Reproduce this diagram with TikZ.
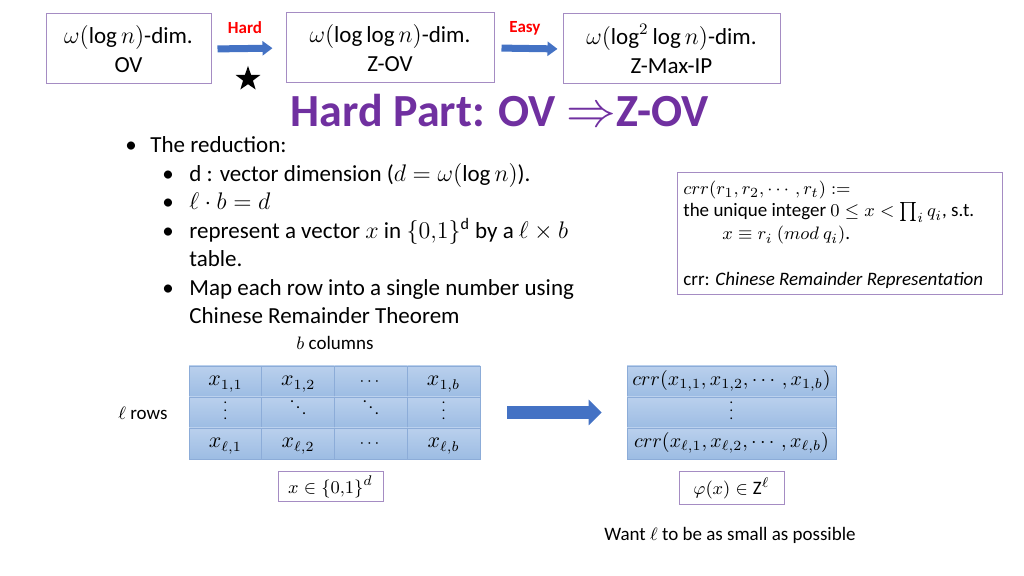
\documentclass[tikz,border=0pt]{standalone}
\usepackage{amssymb}
\usepackage{amsmath}
\usepackage{fontspec}
\setmainfont{Carlito}
\usetikzlibrary{arrows.meta,shapes.geometric}

\definecolor{boxline}{RGB}{165,140,195}
\definecolor{titlepurple}{RGB}{112,48,160}
\definecolor{arrowblue}{RGB}{68,114,196}
\definecolor{tabtop}{RGB}{186,208,237}
\definecolor{tabbot}{RGB}{156,188,227}
\definecolor{tabline}{RGB}{140,172,216}

\newcommand{\bodysize}{\fontsize{11.5pt}{14.5pt}\selectfont}
\newcommand{\smallsize}{\fontsize{9.5pt}{11.5pt}\selectfont}
\newcommand{\tabdots}[1]{{\fontsize{8pt}{9pt}\selectfont$#1$}}
\newcommand{\tabvdots}{\raisebox{-1.2pt}{\fontsize{7pt}{8pt}\selectfont$\vdots$}}

\begin{document}
\begin{tikzpicture}[x=0.5pt,y=-0.5pt,
  probbox/.style={draw=boxline,line width=0.5pt,align=center,inner sep=0pt,minimum height=35pt,font=\bodysize},
  tagbox/.style={draw=boxline,line width=0.5pt,inner sep=0pt,minimum width=52.5pt,font=\smallsize},
  smallarrow/.style={draw=arrowblue,line width=3.5pt,-{Triangle[length=5pt,width=7pt]}},
  cell/.style={draw=tabline,line width=0.4pt,top color=tabtop,bottom color=tabbot,minimum height=15.5pt,text height=7pt,text depth=2.5pt,inner sep=0pt,font=\fontsize{10.5pt}{12pt}\selectfont},
  item/.style={anchor=base west,inner sep=0pt,font=\bodysize},
  bullet/.style={anchor=base,inner sep=0pt,font=\bodysize},
  crrline/.style={anchor=base west,inner sep=0pt,font=\smallsize}]
  \useasboundingbox (0,0) rectangle (1024,576);

  % the three problems
  \node[probbox,minimum width=82.5pt] (ov) at (128.5,49) {$\omega(\log n)$-dim.\\OV};
  \node[probbox,minimum width=104pt] (zov) at (390,48) {$\omega(\log\log n)$-dim.\\Z-OV};
  \node[probbox,minimum width=108.5pt] (zmax) at (671.5,49) {$\omega(\log^2\log n)$-dim.\\Z-Max-IP};

  \node[text=red,font=\fontsize{8.5pt}{10pt}\selectfont\bfseries] (hardlbl) at (245,28) {Hard};
  \node[text=red,font=\fontsize{8.5pt}{10pt}\selectfont\bfseries] (easylbl) at (525,28) {Easy};
  \draw[smallarrow,shorten <=3pt,shorten >=6.5pt] (ov.east) -- (zov.west);
  \draw[smallarrow,shorten <=3.5pt,shorten >=2.5pt] (zov.east) -- (zmax.west);
  \node[star,star points=5,star point ratio=2.5,fill=black,minimum size=13pt,inner sep=0pt] (hardstar) at (248,79) {};

  \node[text=titlepurple,font=\fontsize{23pt}{27pt}\selectfont\bfseries] (title) at (500,111) {Hard Part: OV $\Rightarrow$Z-OV};

  % bullets
  \node[bullet] (b0) at (131,153) {•};
  \node[item] (t0) at (150,153) {The reduction:};
  \node[bullet] (b1) at (168,181.5) {•};
  \node[item] (t1) at (189,181.5) {d : vector dimension ($d=\omega(\log n)$).};
  \node[bullet] (b2) at (168,210) {•};
  \node[item] (t2) at (189,210) {$\ell\cdot b=d$};
  \node[bullet] (b3) at (168,238.5) {•};
  \node[item] (t3) at (189,238.5) {represent a vector $x$ in $\{0{,}1\}^{\mathrm{d}}$ by a $\ell\times b$};
  \node[item] (t3b) at (189,267) {table.};
  \node[bullet] (b4) at (168,295.5) {•};
  \node[item] (t4) at (189,295.5) {Map each row into a single number using};
  \node[item] (t4b) at (189,324) {Chinese Remainder Theorem};

  % crr definition
  \node[draw=boxline,line width=0.5pt,minimum width=162.5pt,minimum height=61pt] (crrbox) at (839.5,234) {};
  \node[crrline] (crrdef) at (683,195) {$crr(r_1,r_2,\cdots,r_t)\mathrel{:=}$};
  \node[crrline] (crruniq) at (683,217) {the unique integer $0\le x<\prod_i q_i$, s.t.};
  \node[crrline] (crrmod) at (722,240) {$x\equiv r_i\ (mod\ q_i)$.};
  \node[crrline] (crrname) at (683,286) {crr: \textit{Chinese Remainder Representation}};

  % the l x b table
  \node[anchor=base,font=\smallsize] (bcols) at (335,350) {$b$ columns};
  \node[font=\smallsize] (lrows) at (143,413) {$\ell$ rows};
  \foreach \txt [count=\c] in {{$x_{1,1}$},{$x_{1,2}$},{\tabdots{\cdots}},{$x_{1,b}$}}
    \node[cell,minimum width=36.375pt] (c-1-\c) at (189+72.75*\c-36.375,381.5) {\txt};
  \foreach \txt [count=\c] in {{\tabvdots},{\tabdots{\ddots}},{\tabdots{\ddots}},{\tabvdots}}
    \node[cell,minimum width=36.375pt] (c-2-\c) at (189+72.75*\c-36.375,412.5) {\txt};
  \foreach \txt [count=\c] in {{$x_{\ell,1}$},{$x_{\ell,2}$},{\tabdots{\cdots}},{$x_{\ell,b}$}}
    \node[cell,minimum width=36.375pt] (c-3-\c) at (189+72.75*\c-36.375,443.5) {\txt};
  \node[tagbox,minimum height=15pt] (xbox) at (330.5,487) {$x\in\{0{,}1\}^d$};

  % the crr column
  \node[cell,minimum width=104.5pt,font=\fontsize{10pt}{12pt}\selectfont] (r-1) at (731.5,381.5) {$crr(x_{1,1},x_{1,2},\cdots,x_{1,b})$};
  \node[cell,minimum width=104.5pt] (r-2) at (731.5,412.5) {\tabvdots};
  \node[cell,minimum width=104.5pt,font=\fontsize{10pt}{12pt}\selectfont] (r-3) at (731.5,443.5) {$crr(x_{\ell,1},x_{\ell,2},\cdots,x_{\ell,b})$};
  \node[tagbox,minimum height=16.5pt] (phibox) at (731.5,488.5) {$\varphi(x)\in\mathrm{Z}^{\ell}$};

  \draw[draw=arrowblue,line width=6.5pt,-{Triangle[length=6.5pt,width=12.5pt]},shorten <=13.5pt,shorten >=12.5pt] (c-2-4.east) -- (r-2.west);

  \node[font=\smallsize] (want) at (730,535) {Want $\ell$ to be as small as possible};
\end{tikzpicture}
\end{document}
